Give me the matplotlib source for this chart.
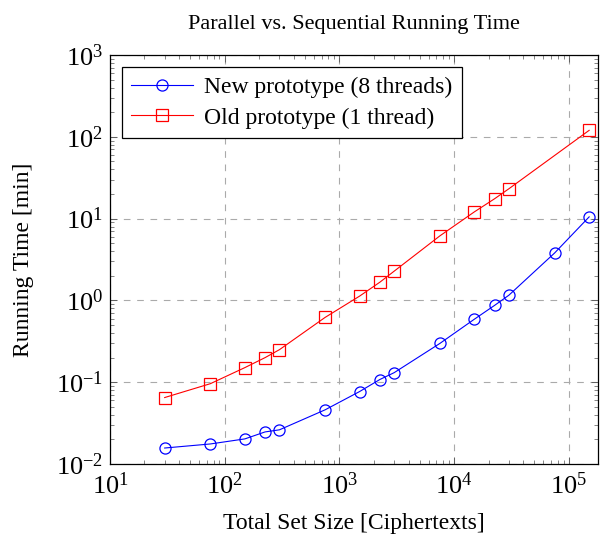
import numpy as np
import matplotlib
matplotlib.use('Agg')
import matplotlib.pyplot as plt
from matplotlib.ticker import LogLocator, NullFormatter

plt.rcParams['font.family'] = ['Liberation Serif', 'DejaVu Serif']
plt.rcParams['mathtext.fontset'] = 'cm'

# Data
set_size_new = [30, 75, 150, 225, 300, 750, 1500, 2250, 3000, 7500, 15000, 22500, 30000, 75000, 150000]
time_new = [0.0157, 0.0176, 0.0203, 0.0247, 0.0262, 0.046, 0.077, 0.108, 0.131, 0.298, 0.59, 0.87, 1.16, 3.8, 10.5]

set_size_old = [30, 75, 150, 225, 300, 750, 1500, 2250, 3000, 7500, 15000, 22500, 30000, 150000]
time_old = [0.065, 0.096, 0.151, 0.20, 0.25, 0.62, 1.13, 1.67, 2.28, 6.15, 12.1, 17.5, 23.2, 120]

fig = plt.figure(figsize=(6.04, 5.34), dpi=100)
ax = fig.add_axes([0.182, 0.131, 0.808, 0.766])

ax.plot(set_size_new, time_new, color='blue', lw=0.8, marker='o', ms=8,
        mfc='none', mew=0.9, label='New prototype (8 threads)')
ax.plot(set_size_old, time_old, color='red', lw=0.8, marker='s', ms=8,
        mfc='none', mew=0.9, label='Old prototype (1 thread)')

ax.set_xscale('log')
ax.set_yscale('log')
ax.set_xlim(10, 1.79e5)
ax.set_ylim(1e-2, 1e3)

ax.xaxis.set_major_locator(LogLocator(base=10, numticks=10))
ax.yaxis.set_major_locator(LogLocator(base=10, numticks=10))
ax.xaxis.set_minor_locator(LogLocator(base=10, subs=np.arange(2, 10), numticks=20))
ax.yaxis.set_minor_locator(LogLocator(base=10, subs=np.arange(2, 10), numticks=20))
ax.xaxis.set_minor_formatter(NullFormatter())
ax.yaxis.set_minor_formatter(NullFormatter())

ax.tick_params(which='both', direction='in', top=True, right=True, color='#555555')
ax.tick_params(which='major', length=5, width=0.6, labelsize=19)
ax.tick_params(which='minor', length=3, width=0.5)
ax.tick_params(axis='x', pad=6)
ax.tick_params(axis='y', pad=5)

ax.grid(True, which='major', linestyle=(0, (6, 6)), color='#aaaaaa', lw=0.8)
for s in ax.spines.values():
    s.set_linewidth(0.9)

ax.set_title('Parallel vs. Sequential Running Time', fontsize=16, pad=19)
ax.set_xlabel('Total Set Size [Ciphertexts]', fontsize=17, labelpad=10)
ax.set_ylabel('Running Time [min]', fontsize=17, labelpad=16)

leg = ax.legend(loc='upper left', fontsize=17, fancybox=False, framealpha=1,
                edgecolor='black', borderaxespad=0.5, handlelength=2.6,
                borderpad=0.4, labelspacing=0.4, handletextpad=0.5)
leg.get_frame().set_linewidth(0.9)

fig.savefig('out.png', dpi=100)
